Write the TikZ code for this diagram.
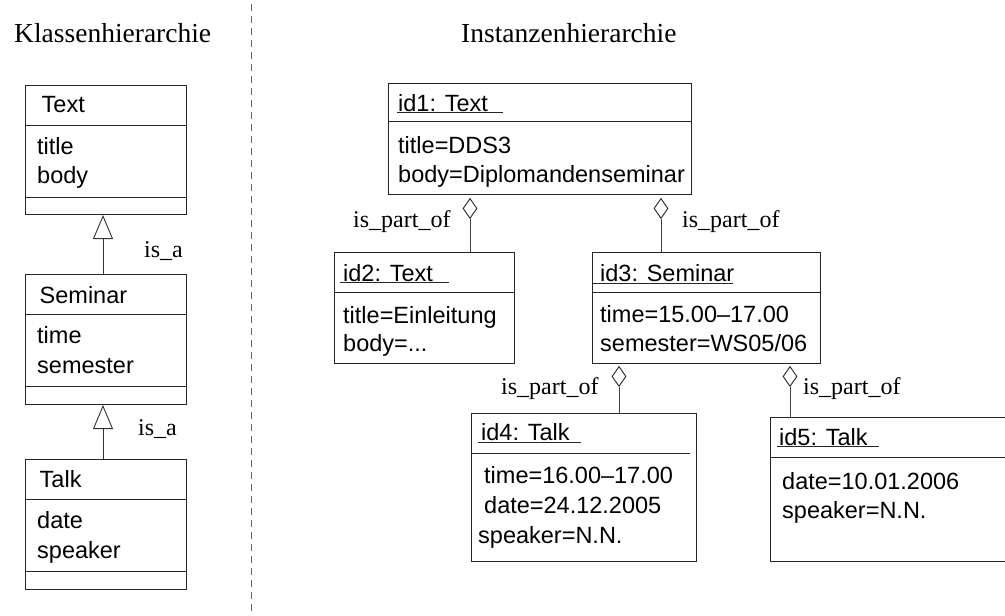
\documentclass[tikz,border=0pt]{standalone}
\usepackage{fontspec}
\setmainfont{Liberation Serif}
\setsansfont{Liberation Sans}
\usetikzlibrary{shapes.geometric,arrows.meta}
\begin{document}
\begin{tikzpicture}[x=1pt,y=-1pt,
  umlbox/.style={draw=black!85, line width=1pt, rectangle, inner sep=0pt, anchor=north west},
  sepline/.style={draw=black!85, line width=1pt},
  txt/.style={font=\sffamily\fontsize{23.5}{29}\selectfont, anchor=base west, inner sep=0pt},
  lbl/.style={font=\rmfamily\fontsize{24}{28}\selectfont, anchor=base west, inner sep=0pt},
  ttl/.style={font=\rmfamily\fontsize{27.5}{32}\selectfont, anchor=base west, inner sep=0pt},
  uline/.style={draw=black!85, line width=0.9pt},
  agg/.style={draw=black!85, line width=0.9pt, diamond, inner sep=0pt,
              minimum width=14pt, minimum height=20pt, anchor=north},
  link/.style={draw=black!75, line width=0.9pt},
  isa/.style={draw=black!80, line width=0.9pt, -{Triangle[open, width=20pt, length=24pt]}},
  divider/.style={draw=black!60, line width=0.9pt, dash pattern=on 7pt off 5pt}
]
\clip (0,0) rectangle (1005,616);

% headings and the dividing line
\node[ttl] (hK) at (14,42) {Klassenhierarchie};
\node[ttl] (hI) at (461,42) {Instanzenhierarchie};
\draw[divider] (251,4) -- (251,616);

% ---------------- class hierarchy ----------------
\node[umlbox, minimum width=161pt, minimum height=129pt] (cText) at (25,85) {};
\draw[sepline] (25,125) -- (186,125);
\draw[sepline] (25,197) -- (186,197);
\node[txt] (cTextN) at (41.5,112) {Text};
\node[txt] (cTextA) at (37,154) {title};
\node[txt] (cTextB) at (37,183) {body};

\node[umlbox, minimum width=161pt, minimum height=130pt] (cSem) at (25,274) {};
\draw[sepline] (25,314) -- (186,314);
\draw[sepline] (25,386) -- (186,386);
\node[txt] (cSemN) at (39.5,303) {Seminar};
\node[txt] (cSemA) at (37,343) {time};
\node[txt] (cSemB) at (37,373) {semester};

\node[umlbox, minimum width=161pt, minimum height=130pt] (cTalk) at (25,459) {};
\draw[sepline] (25,499) -- (186,499);
\draw[sepline] (25,571) -- (186,571);
\node[txt] (cTalkN) at (39.5,487) {Talk};
\node[txt] (cTalkA) at (37,528) {date};
\node[txt] (cTalkB) at (37,558) {speaker};

\draw[isa] ([xshift=-3pt]cSem.north) -- ([xshift=-3pt]cText.south);
\draw[isa] ([xshift=-3pt]cTalk.north) -- ([xshift=-3pt]cSem.south);
\node[lbl] (isa1) at (144,257) {is\_a};
\node[lbl] (isa2) at (138,435) {is\_a};

% ---------------- instance hierarchy ----------------
% id1
\node[umlbox, minimum width=303pt, minimum height=111pt] (id1) at (388,83) {};
\draw[sepline] (388,121) -- (691,121);
\node[txt] (id1N) at (398,111) {id1: Text};
\draw[uline] (397,112.5) -- (503,112.5);
\node[txt] (id1A) at (398,153) {title=DDS3};
\node[txt] (id1B) at (398,182) {body=Diplomandenseminar};

% id2
\node[umlbox, minimum width=180pt, minimum height=111pt] (id2) at (334,252) {};
\draw[sepline] (334,292.5) -- (514,292.5);
\node[txt] (id2N) at (343,281) {id2: Text};
\draw[uline] (340,282.5) -- (449,282.5);
\node[txt] (id2A) at (343,323) {title=Einleitung};
\node[txt] (id2B) at (343,351.5) {body=...};

% id3
\node[umlbox, minimum width=228pt, minimum height=111pt] (id3) at (591.5,252) {};
\draw[sepline] (591.5,292.5) -- (819.5,292.5);
\node[txt] (id3N) at (600,281.5) {id3: Seminar};
\draw[uline] (592,283) -- (733,283);
\node[txt] (id3A) at (600,322) {time=15.00–17.00};
\node[txt] (id3B) at (600,351) {semester=WS05/06};

% id4
\node[umlbox, minimum width=225pt, minimum height=148pt] (id4) at (471,413) {};
\draw[sepline] (471,453) -- (690,453);
\node[txt] (id4N) at (481,440.5) {id4: Talk};
\draw[uline] (478,442) -- (581,442);
\node[txt] (id4A) at (484,483) {time=16.00–17.00};
\node[txt] (id4B) at (484,513) {date=24.12.2005};
\node[txt] (id4C) at (478,543) {speaker=N.N.};

% id5 (runs past the right margin)
\node[umlbox, minimum width=245pt, minimum height=144pt] (id5) at (770,417) {};
\draw[sepline] (770,457) -- (1015,457);
\node[txt] (id5N) at (779,445) {id5: Talk};
\draw[uline] (777,446.5) -- (879,446.5);
\node[txt] (id5A) at (782,489) {date=10.01.2006};
\node[txt] (id5B) at (782,518) {speaker=N.N.};

% aggregation diamonds and their links
\node[agg] (d1) at (470,198) {};
\node[agg] (d2) at (661,198) {};
\node[agg] (d3) at (619,366) {};
\node[agg] (d4) at (790,366) {};
\draw[link] (d1.south) -- (d1.south |- id2.north);
\draw[link] (d2.south) -- (d2.south |- id3.north);
\draw[link] (d3.south) -- (d3.south |- id4.north);
\draw[link] (d4.south) -- (d4.south |- id5.north);

\node[lbl] (p1) at (353,227) {is\_part\_of};
\node[lbl] (p2) at (682,227) {is\_part\_of};
\node[lbl] (p3) at (501,394) {is\_part\_of};
\node[lbl] (p4) at (803,394) {is\_part\_of};
\end{tikzpicture}
\end{document}
